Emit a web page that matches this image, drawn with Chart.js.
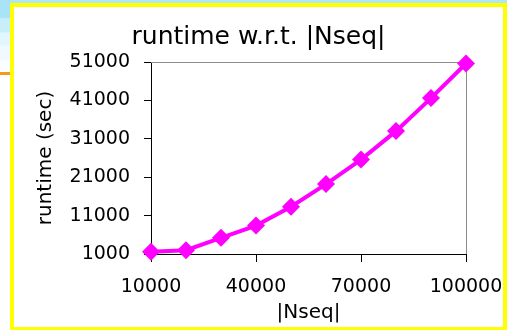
<!DOCTYPE html>
<html>
<head>
<meta charset="utf-8">
<script src="https://cdn.jsdelivr.net/npm/chart.js@4"></script>
<style>
  html, body { margin: 0; padding: 0; background: #fff; }
  #pagina { position: relative; width: 507px; height: 330px; overflow: hidden; background: #fff; }
  #franja-arriba { position: absolute; left: 0; top: 0; width: 507px; height: 4px; background: #aee5f7; }
  #franja-izq { position: absolute; left: 0; top: 0; width: 10px; height: 72px;
    background: linear-gradient(to bottom, #a9e3f7 0%, #a9e3f7 24%, #c8eefa 26%, #c8eefa 44%, #e1f6fd 46%, #e1f6fd 62%, #f0fafe 64%, #f0fafe 82%, #f9fdff 84%, #fbfeff 100%); }
  #linea-naranja { position: absolute; left: 0; top: 72px; width: 10px; height: 3px; background: #f39a1e; }
  #marco { position: absolute; left: 10px; top: 3px; width: 497px; height: 327px; box-sizing: border-box;
    border: 4px solid #ffff00; border-bottom-width: 3px; background: #fff; }
  #graph-runtime { position: absolute; left: 0; top: 0; }
</style>
</head>
<body>
<div id="pagina">
  <div id="franja-arriba"></div>
  <div id="franja-izq"></div>
  <div id="linea-naranja"></div>
  <div id="marco"></div>
  <canvas id="graph-runtime" width="507" height="330"></canvas>
</div>
<script>
// Datos
const nseq = [10000, 20000, 30000, 40000, 50000, 60000, 70000, 80000, 90000, 100000];
const runtime = [1600, 2000, 5200, 8400, 13300, 19200, 25600, 33000, 41600, 50600];

// Marcas de los ejes
const ticksX = [10000, 40000, 70000, 100000];
const ticksY = [1000, 11000, 21000, 31000, 41000, 51000];

const fuente = 'DejaVu Sans';

// Borde gris arriba y a la derecha del area del grafico
const bordeArea = {
    id: 'bordeArea',
    beforeDatasetsDraw(chart) {
        const { ctx, chartArea: a } = chart;
        ctx.save();
        ctx.strokeStyle = '#8c8c8c';
        ctx.lineWidth = 1;
        ctx.beginPath();
        ctx.moveTo(a.left, a.top + 0.5);
        ctx.lineTo(a.right + 0.5, a.top + 0.5);
        ctx.lineTo(a.right + 0.5, a.bottom);
        ctx.stroke();
        ctx.restore();
    }
};

const canvas = document.getElementById('graph-runtime');

const miGrafico = new Chart(canvas, {
    type: 'line',
    data: {
        datasets: [{
            data: nseq.map((x, i) => ({ x: x, y: runtime[i] })),
            borderColor: '#ff00ff',
            backgroundColor: '#ff00ff',
            borderWidth: 4,
            pointStyle: 'rectRot',
            pointRadius: 9,
            pointHoverRadius: 9,
            pointBorderWidth: 0,
            clip: false
        }]
    },
    options: {
        responsive: false,
        animation: false,
        layout: {
            padding: { left: 34, right: 24, top: 0, bottom: 5 }
        },
        plugins: {
            legend: { display: false },
            tooltip: { enabled: false },
            title: {
                display: true,
                text: 'runtime w.r.t. |Nseq|',
                color: '#000',
                font: { family: fuente, size: 25, weight: 'normal' },
                padding: { top: 22, bottom: 10 }
            }
        },
        scales: {
            x: {
                type: 'linear',
                min: 10000,
                max: 100000,
                afterBuildTicks: (scale) => { scale.ticks = ticksX.map(v => ({ value: v })); },
                afterFit: (scale) => {
                    scale.height = 71;
                    scale.paddingLeft = 0;
                    scale.paddingRight = 41; // deja sitio a la derecha del area
                },
                grid: { drawOnChartArea: false, drawTicks: true, tickLength: 8, color: '#000' },
                border: { color: '#000', width: 1 },
                ticks: {
                    color: '#000',
                    padding: 14,
                    maxRotation: 0,
                    font: { family: fuente, size: 19 },
                    callback: (v) => String(v)
                },
                title: {
                    display: true,
                    text: '|Nseq|',
                    color: '#000',
                    font: { family: fuente, size: 20 },
                    padding: 0
                }
            },
            y: {
                type: 'linear',
                min: 1000,
                max: 51000,
                afterBuildTicks: (scale) => { scale.ticks = ticksY.map(v => ({ value: v })); },
                afterFit: (scale) => {
                    scale.width = 117;
                    scale.paddingTop = 0;
                    scale.paddingBottom = 0;
                },
                grid: { drawOnChartArea: false, drawTicks: true, tickLength: 7, color: '#000' },
                border: { color: '#000', width: 1 },
                ticks: {
                    color: '#000',
                    padding: 14,
                    font: { family: fuente, size: 19 },
                    callback: (v) => String(v)
                },
                title: {
                    display: true,
                    text: 'runtime (sec)',
                    color: '#000',
                    font: { family: fuente, size: 20 },
                    padding: 0
                }
            }
        }
    },
    plugins: [bordeArea]
});
</script>
</body>
</html>
